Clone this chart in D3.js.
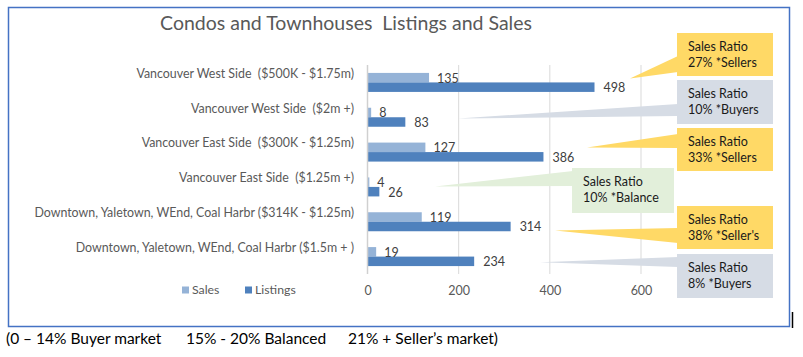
<!DOCTYPE html>
<html>
<head>
<meta charset="utf-8">
<script src="https://cdn.jsdelivr.net/npm/d3@7"></script>
<style>
  html, body { margin: 0; padding: 0; background: #fff; }
  svg { display: block; font-family: Lato, "Open Sans", sans-serif; }
  svg text { white-space: pre; }
</style>
</head>
<body>
<svg id="chart" width="803" height="357"></svg>
<script>
// ---------- data ----------
const categories = [
  "Vancouver West Side  ($500K - $1.75m)",
  "Vancouver West Side  ($2m +)",
  "Vancouver East Side  ($300K - $1.25m)",
  "Vancouver East Side  ($1.25m +)",
  "Downtown, Yaletown, WEnd, Coal Harbr ($314K - $1.25m)",
  "Downtown, Yaletown, WEnd, Coal Harbr ($1.5m + )"
];
const sales    = [135, 8, 127, 4, 119, 19];
const listings = [498, 83, 386, 26, 314, 234];
const seriesNames = ["Sales", "Listings"];
const xTicks = [0, 200, 400, 600];
const ratioText = ["27% *Sellers", "10% *Buyers", "33% *Sellers", "10% *Balance", "38% *Seller's", "8% *Buyers"];
const ratioKind = ["seller", "buyer", "seller", "balance", "seller", "buyer"];
const title = "Condos and Townhouses  Listings and Sales";
const footer = ["(0 \u2013 14% Buyer market", "15% - 20% Balanced", "21% + Seller\u2019s market)"];

// ---------- layout ----------
const svg = d3.select("#chart");
const colors = { Sales: "#95B3D7", Listings: "#4F81BD" };
const calloutFill = { seller: "#FFD966", buyer: "#D6DCE5", balance: "#E2EFDA" };

const x = d3.scaleLinear().domain([0, 600]).range([367.5, 641]);
const y = d3.scaleBand().domain(categories).range([65, 274]).padding(0);
const barH = 9.5;

// outer frame
svg.append("rect").attr("x", 8.5).attr("y", 7.5).attr("width", 781).attr("height", 319)
  .attr("fill", "none").attr("stroke", "#4472C4").attr("stroke-width", 1.5);
svg.append("line").attr("x1", 792.5).attr("x2", 792.5).attr("y1", 312).attr("y2", 328)
  .attr("stroke", "#000").attr("stroke-width", 1.5);

// title
svg.append("text").attr("x", 346).attr("y", 30).attr("text-anchor", "middle")
  .attr("font-size", 19.5).attr("fill", "#595959").text(title);

// gridlines
svg.append("g").selectAll("line").data(xTicks.filter(d => d > 0)).join("line")
  .attr("x1", d => x(d)).attr("x2", d => x(d)).attr("y1", 65).attr("y2", 274)
  .attr("stroke", "#D9D9D9").attr("stroke-width", 1);

// x axis ticks
const xAxis = d3.axisBottom(x).tickValues(xTicks).tickSize(0).tickPadding(0);
const gx = svg.append("g").attr("transform", "translate(0,286)").call(xAxis);
gx.select(".domain").remove();
gx.selectAll("text").attr("font-size", 12.5).attr("fill", "#595959")
  .attr("font-family", "Lato, sans-serif").attr("dy", "0.7em");

// bars
const gBars = svg.append("g");
categories.forEach((c, i) => {
  const c0 = y(c) + y.bandwidth() / 2;
  gBars.append("rect").attr("x", x(0)).attr("y", c0 - barH).attr("width", x(sales[i]) - x(0))
    .attr("height", barH).attr("fill", colors.Sales);
  gBars.append("rect").attr("x", x(0)).attr("y", c0).attr("width", x(listings[i]) - x(0))
    .attr("height", barH).attr("fill", colors.Listings);
  gBars.append("text").attr("x", x(sales[i]) + 8).attr("y", c0 - barH / 2 + 0.5).attr("dy", "0.35em")
    .attr("font-size", 12.5).attr("fill", "#404040").text(sales[i]);
  gBars.append("text").attr("x", x(listings[i]) + 9).attr("y", c0 + barH / 2 + 0.5).attr("dy", "0.35em")
    .attr("font-size", 12.5).attr("fill", "#404040").text(listings[i]);
});

// category axis line
svg.append("line").attr("x1", x(0)).attr("x2", x(0)).attr("y1", 65).attr("y2", 274)
  .attr("stroke", "#D0D0D0").attr("stroke-width", 1.5);

// category labels
svg.append("g").selectAll("text").data(categories).join("text")
  .attr("x", 354).attr("y", d => y(d) + y.bandwidth() / 2 - 9).attr("dy", "0.35em")
  .attr("text-anchor", "end").attr("font-size", 12.4).attr("fill", "#595959").text(d => d);

// legend
const legend = svg.append("g");
const legendX = [182, 245];
seriesNames.forEach((s, i) => {
  legend.append("rect").attr("x", legendX[i]).attr("y", 286.5).attr("width", 7).attr("height", 7)
    .attr("fill", colors[s]);
  legend.append("text").attr("x", legendX[i] + 10).attr("y", 290).attr("dy", "0.35em")
    .attr("font-size", 12.3).attr("fill", "#595959").text(s);
});

// callouts (annotation layout)
const callouts = [
  { box: [677, 33, 96, 43],  tip: [630, 78.5],  base: [56, 72] },
  { box: [677, 80, 96, 44],  tip: [458, 118.5], base: [104, 116] },
  { box: [677, 128, 96, 43], tip: [587, 147.5], base: [134, 148] },
  { box: [572, 168, 102, 45], tip: [435, 186.5], base: [171, 186] },
  { box: [677, 206, 96, 43], tip: [555, 230.5], base: [228, 243] },
  { box: [677, 254, 96, 44], tip: [540, 262.3], base: [257, 267] }
];
const gc = svg.append("g");
callouts.forEach((co, i) => {
  const [bx, by, bw, bh] = co.box;
  const fill = calloutFill[ratioKind[i]];
  gc.append("path")
    .attr("d", `M${co.tip[0]},${co.tip[1]} L${bx + 1},${co.base[0]} L${bx + 1},${co.base[1]} Z`)
    .attr("fill", fill);
  gc.append("rect").attr("x", bx).attr("y", by).attr("width", bw).attr("height", bh).attr("fill", fill);
  const t = gc.append("text").attr("font-size", 12.5).attr("fill", "#1a1a1a");
  t.append("tspan").attr("x", bx + 11).attr("y", by + 13.5).attr("dy", "0.35em").text("Sales Ratio");
  t.append("tspan").attr("x", bx + 11).attr("y", by + 30).attr("dy", "0.35em").text(ratioText[i]);
});

// footer
const footerX = [6, 186, 348];
svg.append("g").selectAll("text").data(footer).join("text")
  .attr("x", (d, i) => footerX[i]).attr("y", 339).attr("dy", "0.35em")
  .attr("font-size", 15.5).attr("fill", "#000").text(d => d);
</script>
</body>
</html>
